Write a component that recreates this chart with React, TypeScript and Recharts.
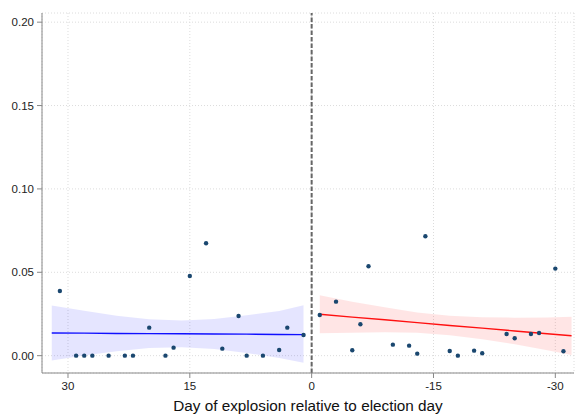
import { ComposedChart, Area, Line, Scatter, XAxis, YAxis, CartesianGrid, ReferenceLine } from 'recharts';

// observed daily shares, before (positive days) and after (negative days) the election
const preDays = [31, 29, 28, 27, 25, 23, 22, 20, 18, 17, 15, 13, 11, 9, 8, 6, 4, 3, 1];
const preShare = [0.0388, 0, 0, 0, 0, 0, 0, 0.0168, 0, 0.0048, 0.0478, 0.0674, 0.0042, 0.0238, 0, 0, 0.0034, 0.0168, 0.0124];
const postDays = [-1, -3, -5, -6, -7, -10, -12, -13, -14, -17, -18, -20, -21, -24, -25, -27, -28, -30, -31];
const postShare = [0.0244, 0.0324, 0.0032, 0.0188, 0.0536, 0.0066, 0.006, 0.0012, 0.0716, 0.0028, 0, 0.003, 0.0014, 0.013, 0.0104, 0.013, 0.0136, 0.0522, 0.0026];

// fitted lines and 95% bands
const preFitDays = [32, 28, 24, 20, 16, 12, 8, 4, 1];
const preFit = [0.0136, 0.0135, 0.0133, 0.0132, 0.0131, 0.013, 0.0129, 0.0127, 0.0126];
const preLow = [-0.0029, 0.0001, 0.0027, 0.0046, 0.0051, 0.004, 0.0016, -0.0014, -0.0042];
const preHigh = [0.0301, 0.0269, 0.0239, 0.0218, 0.0211, 0.022, 0.0242, 0.0268, 0.0302];

const postFitDays = [-1, -5, -9, -13, -17, -21, -25, -29, -32];
const postFit = [0.0248, 0.0231, 0.0215, 0.0198, 0.0181, 0.0165, 0.0148, 0.0131, 0.0119];
const postLow = [0.0134, 0.0138, 0.014, 0.0137, 0.0123, 0.0099, 0.0068, 0.0033, 0.0004];
const postHigh = [0.0362, 0.0324, 0.029, 0.0259, 0.0239, 0.0231, 0.0228, 0.0229, 0.0234];

const xTicks = [30, 15, 0, -15, -30];
const yTicks = [0, 0.05, 0.1, 0.15, 0.2];

const preData = preDays.map((day, i) => ({ day, share: preShare[i] }));
const postData = postDays.map((day, i) => ({ day, share: postShare[i] }));
const preFitData = preFitDays.map((day, i) => ({ day, fit: preFit[i], band: [preLow[i], preHigh[i]] }));
const postFitData = postFitDays.map((day, i) => ({ day, fit: postFit[i], band: [postLow[i], postHigh[i]] }));

const tickStyle = { fill: '#222', fontSize: 11.5, fontFamily: 'Liberation Sans, Arial, sans-serif' };

const Dot = (props: any) => <circle cx={props.cx} cy={props.cy} r={2.2} fill="#1a476f" />;

export default function App() {
  return (
    <div style={{ position: 'absolute', left: 0, top: 0, background: '#fff' }}>
      <ComposedChart width={576} height={416} margin={{ top: 13, right: 2, left: 0, bottom: 0 }}>
        <CartesianGrid stroke="#dcdcdc" strokeDasharray="1 2" />
        <XAxis
          type="number"
          dataKey="day"
          domain={[-32.3, 33.2]}
          reversed
          allowDataOverflow
          ticks={xTicks}
          tickFormatter={(v: number) => String(v)}
          height={43}
          tickSize={5}
          tickMargin={4}
          stroke="#888"
          tick={tickStyle}
          label={{ value: 'Day of explosion relative to election day', position: 'insideBottom', offset: 5, fill: '#111', fontSize: 15.3, fontFamily: 'Liberation Sans, Arial, sans-serif' }}
        />
        <YAxis
          type="number"
          domain={[-0.0104, 0.2055]}
          allowDataOverflow
          ticks={yTicks}
          tickFormatter={(v: number) => v.toFixed(2)}
          width={42}
          tickSize={5}
          tickMargin={3}
          stroke="#888"
          tick={tickStyle}
        />
        <Area data={preFitData} dataKey="band" type="linear" fill="#0000ff" fillOpacity={0.1} stroke="none" isAnimationActive={false} />
        <Area data={postFitData} dataKey="band" type="linear" fill="#ff0000" fillOpacity={0.1} stroke="none" isAnimationActive={false} />
        <ReferenceLine x={0} stroke="#666" strokeWidth={2} strokeDasharray="4.5 2" />
        <Line data={preFitData} dataKey="fit" type="linear" stroke="#1010ff" strokeWidth={1.4} dot={false} isAnimationActive={false} />
        <Line data={postFitData} dataKey="fit" type="linear" stroke="#ff1010" strokeWidth={1.4} dot={false} isAnimationActive={false} />
        <Scatter data={preData} dataKey="share" shape={Dot} isAnimationActive={false} />
        <Scatter data={postData} dataKey="share" shape={Dot} isAnimationActive={false} />
      </ComposedChart>
    </div>
  );
}
